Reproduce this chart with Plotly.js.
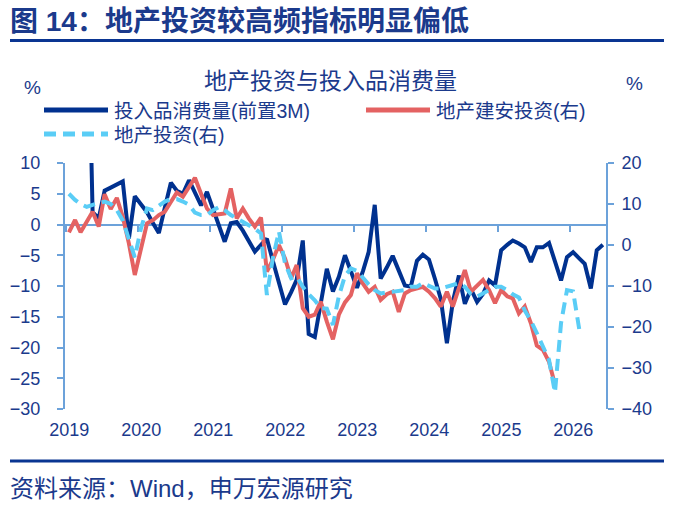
<!DOCTYPE html>
<html>
<head>
<meta charset="utf-8">
<script src="https://cdn.plot.ly/plotly-3.0.1.min.js"></script>
<style>
  html, body { margin: 0; padding: 0; background: #ffffff; }
  #chart { width: 675px; height: 512px; }
</style>
</head>
<body>
<div id="chart"></div>
<script>
// ---- data -------------------------------------------------------------
const yearLabels = ['2019', '2020', '2021', '2022', '2023', '2024', '2025', '2026'];

// 投入品消费量(前置3M), %, monthly, left axis
const inputStart = '2019-04';
const inputConsumption = [
  45, 2.0, 1.0, 5.5, 6.0, 6.5, 7.0, -2.3, 4.6,
  3.3, 2.0, 0.3, -1.4, 2.7, 6.8, 5.5, 5.0, 7.2, 5.2, 3.1, 5.3,
  2.6, -0.1, -2.8, 0.2, 0.4, -1.0, -2.7, -4.4, -3.3, -2.3, -6.0, -9.5,
  -13.0, -11.0, -9.0, -2.6, -17.8, -18.3, -12.7, -7.2, -10.9, -8.5, -5.0, -7.5,
  -10.3, -7.5, -4.5, 3.2, -8.8, -7.0, -5.1, -7.5, -9.9, -10.1, -5.9, -4.9,
  -5.7, -8.9, -12.1, -19.3, -12.6, -8.3, -12.9, -10.5, -12.6, -11.3, -9.1, -9.9,
  -4.2, -3.3, -2.6, -3.1, -3.7, -6.1, -3.7, -3.7, -3.0, -6.0, -9.1, -5.3,
  -4.5, -5.5, -6.4, -10.4, -4.2, -3.3
];

// 地产建安投资, %, monthly, right axis
const constructionStart = '2019-01';
const constructionInvest = [
  3.1, 6.1, 3.1, 5.6, 8.1, 4.5, 12.4, 8.8, 11.5, 6.9, 0.4, -7.3,
  -1.0, 5.3, 6.0, 7.3, 8.1, 10.5, 12.8, 11.8, 14.0, 16.4, 12.5, 8.9,
  7.3, 7.5, 7.7, 13.8, 6.5, 8.9, 6.5, 4.5, 6.7, -6.5, -3.5, 0.0,
  -3.3, -8.1, -4.9, -15.4, -17.5, -17.0, -13.8, -18.7, -23.0, -17.0, -14.0, -12.2,
  -6.9, -9.5, -11.4, -10.2, -13.4, -12.0, -11.4, -16.3, -11.8, -11.0, -10.6, -10.2,
  -11.4, -13.0, -15.0, -11.4, -15.0, -10.6, -6.1, -11.4, -10.0, -8.5, -11.0, -14.2,
  -11.0, -12.5, -13.0, -16.7, -15.0, -19.1, -24.5, -25.6, -28.5, -34.0
];

// 地产投资, %, monthly, right axis
const realEstateStart = '2019-01';
const realEstateInvest = [
  12.5, 11.0, 10.0, 9.3, 9.8, 10.2, 10.6, 10.0, 8.5, 6.0, 1.5, -3.0,
  4.0, 8.9, 8.5, 9.5, 10.6, 11.2, 11.2, 10.6, 9.8, 7.9, 7.3, 7.3,
  8.5, 9.3, 8.5, 7.3, 6.5, 5.7, 5.0, 4.0, 2.8, -12.2, -3.0, 3.3,
  -4.5, -8.1, -7.7, -10.2, -12.0, -13.5, -15.4, -15.5, -19.5, -12.5, -7.5, -5.7,
  -6.3, -8.1, -9.6, -11.0, -11.8, -11.6, -11.4, -11.2, -11.0, -10.2, -10.2, -9.3,
  -10.0, -10.6, -10.6, -10.2, -9.8, -9.3, -10.2, -12.0, -12.6, -11.8, -11.0, -10.2,
  -10.2, -11.0, -12.0, -12.8, -16.0, -18.5, -21.5, -24.5, -28.0, -36.0, -19.0, -11.0,
  -11.3, -20.5
];

const seriesNames = ['投入品消费量(前置3M)', '地产建安投资(右)', '地产投资(右)'];

// ---- helpers ----------------------------------------------------------
// monthly points sit in the middle of each month
function monthSeries(start, n) {
  const parts = start.split('-').map(Number);
  const out = [];
  for (let i = 0; i < n; i++) {
    const t = parts[1] - 1 + i;
    const y = parts[0] + Math.floor(t / 12);
    const m = (t % 12) + 1;
    out.push(y + '-' + String(m).padStart(2, '0') + '-15');
  }
  return out;
}
const yearTicks = yearLabels.map(y => y + '-01-01');

// plot area in pixels
const L = 65, T = 163, W = 542, H = 246;
const px = x => (x - L) / W;
const py = y => (T + H - y) / H;

const NAVY = '#00318F';
const RED = '#E46262';
const SKY = '#5ACDF6';
const AXIS = '#6CA2DA';
const TEXT = '#1B3A8C';
const FONT = '"Liberation Sans", Arial, "Noto Sans CJK SC", sans-serif';
const DASH = '12px,7px';

// ---- traces -----------------------------------------------------------
const traces = [
  {
    x: monthSeries(inputStart, inputConsumption.length),
    y: inputConsumption,
    name: seriesNames[0],
    type: 'scatter', mode: 'lines',
    line: { color: NAVY, width: 4 },
    xaxis: 'x', yaxis: 'y', hoverinfo: 'skip'
  },
  {
    x: monthSeries(constructionStart, constructionInvest.length),
    y: constructionInvest,
    name: seriesNames[1],
    type: 'scatter', mode: 'lines',
    line: { color: RED, width: 4 },
    xaxis: 'x2', yaxis: 'y2', hoverinfo: 'skip'
  },
  {
    x: monthSeries(realEstateStart, realEstateInvest.length),
    y: realEstateInvest,
    name: seriesNames[2],
    type: 'scatter', mode: 'lines',
    line: { color: SKY, width: 4, dash: DASH },
    xaxis: 'x2', yaxis: 'y2', hoverinfo: 'skip'
  }
];

// ---- legend, rules, titles -------------------------------------------
const shapes = [
  // rules under the header and above the source line
  { type: 'line', xref: 'paper', yref: 'paper', x0: px(10), x1: px(664), y0: py(40.5), y1: py(40.5),
    line: { color: '#0A3592', width: 3 } },
  { type: 'line', xref: 'paper', yref: 'paper', x0: px(10), x1: px(664), y0: py(461), y1: py(461),
    line: { color: '#0A3592', width: 3 } },
  // legend samples
  { type: 'line', xref: 'paper', yref: 'paper', x0: px(44), x1: px(108), y0: py(110), y1: py(110),
    line: { color: NAVY, width: 5 } },
  { type: 'line', xref: 'paper', yref: 'paper', x0: px(366), x1: px(430), y0: py(110), y1: py(110),
    line: { color: RED, width: 5 } },
  { type: 'line', xref: 'paper', yref: 'paper', x0: px(44), x1: px(108), y0: py(134), y1: py(134),
    line: { color: SKY, width: 5, dash: DASH } }
];

function label(text, x, y, size, opts) {
  return Object.assign({
    text: text, xref: 'paper', yref: 'paper', x: px(x), y: py(y),
    xanchor: 'left', yanchor: 'middle', showarrow: false,
    font: { family: FONT, size: size, color: TEXT }
  }, opts || {});
}

const annotations = [
  label('<b>图 14：地产投资较高频指标明显偏低</b>', 8, 22, 28),
  label('地产投资与投入品消费量', 330, 81, 23, { xanchor: 'center' }),
  label(seriesNames[0], 112, 111, 19.5),
  label(seriesNames[1], 434, 111, 19.5),
  label(seriesNames[2], 112, 135, 19.5),
  label('%', 32, 87, 19, { xanchor: 'center' }),
  label('%', 634, 83, 19, { xanchor: 'center' }),
  label('资料来源：Wind，申万宏源研究', 8, 488, 24)
];

// ---- layout -----------------------------------------------------------
const xRange = ['2018-12-26', '2026-07-06'];
const tickFont = { family: FONT, size: 18, color: TEXT };

const layout = {
  width: 675, height: 512,
  margin: { l: L, r: 675 - L - W, t: T, b: 512 - T - H, pad: 0 },
  paper_bgcolor: '#ffffff', plot_bgcolor: '#ffffff',
  showlegend: false,
  font: { family: FONT, color: TEXT },
  xaxis: {
    type: 'date', range: xRange,
    tickmode: 'array', tickvals: yearTicks, ticktext: yearLabels,
    ticks: '', showline: false, showgrid: false, zeroline: false,
    tickfont: tickFont, ticklabelshift: 3, ticklabelstandoff: 8,
    fixedrange: true
  },
  xaxis2: {
    type: 'date', range: xRange, overlaying: 'x', anchor: 'free', position: 0.75,
    tickmode: 'array', tickvals: yearTicks, showticklabels: false,
    ticks: 'outside', ticklen: 6, tickwidth: 2, tickcolor: AXIS,
    showline: true, linecolor: AXIS, linewidth: 2,
    showgrid: false, zeroline: false, layer: 'below traces', fixedrange: true
  },
  yaxis: {
    range: [-30, 10], tickmode: 'linear', tick0: -30, dtick: 5,
    ticks: 'outside', ticklen: 6, tickwidth: 2, tickcolor: AXIS,
    showline: true, linecolor: AXIS, linewidth: 2,
    showgrid: false, zeroline: false,
    tickfont: tickFont, ticklabelstandoff: 13, layer: 'below traces', fixedrange: true
  },
  yaxis2: {
    range: [-40, 20], tickmode: 'linear', tick0: -40, dtick: 10,
    overlaying: 'y', side: 'right', anchor: 'free', position: 1,
    ticks: 'outside', ticklen: 6, tickwidth: 2, tickcolor: AXIS,
    showline: true, linecolor: AXIS, linewidth: 2,
    showgrid: false, zeroline: false,
    tickfont: tickFont, ticklabelstandoff: 4, layer: 'below traces', fixedrange: true
  },
  shapes: shapes,
  annotations: annotations
};

Plotly.newPlot('chart', traces, layout, { staticPlot: true, displayModeBar: false });
</script>
</body>
</html>
